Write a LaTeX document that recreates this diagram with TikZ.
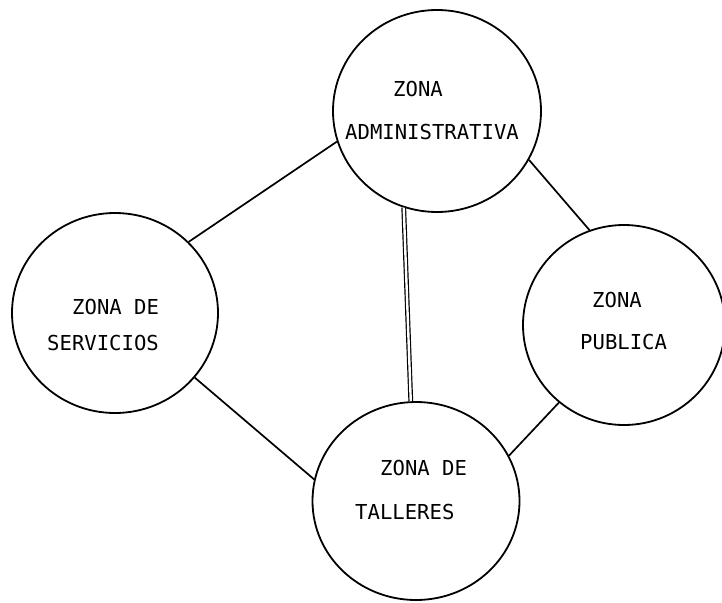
\documentclass[tikz,border=0pt]{standalone}
\usepackage{fontspec}
\newfontfamily\zfont{DejaVu Sans Mono}
\usetikzlibrary{shapes.geometric}
\begin{document}
\begin{tikzpicture}[x=1pt,y=-1pt,
  zone/.style={draw, ellipse, line width=1.8pt, inner sep=0pt},
  lbl/.style={anchor=base west, inner sep=0pt, font=\zfont\fontsize{20.6}{24}\selectfont},
  link/.style={line width=1.7pt},
  dlink/.style={line width=1.2pt, double, double distance=2.4pt}]
\clip (0,0) rectangle (722,602);
\fill[white] (0,0) rectangle (722,602);
\node[zone, minimum width=208pt, minimum height=202pt] (adm) at (437,111) {};
\node[zone, minimum width=206pt, minimum height=200pt] (ser) at (115,313) {};
\node[zone, minimum width=202pt, minimum height=200pt] (pub) at (624,325) {};
\node[zone, minimum width=207pt, minimum height=198pt] (tal) at (416,501) {};
\node[lbl] (t1) at (393,96.5) {ZONA};
\node[lbl] (t2) at (345,139.5) {ADMINISTRATIVA};
\node[lbl] (t3) at (72,314.5) {ZONA DE};
\node[lbl] (t4) at (47,350.5) {SERVICIOS};
\node[lbl] (t5) at (592,307.5) {ZONA};
\node[lbl] (t6) at (580,349.5) {PUBLICA};
\node[lbl] (t7) at (380,475.5) {ZONA DE};
\node[lbl] (t8) at (355,519.5) {TALLERES};
\draw[link] (ser.44.6) -- (adm.197);
\draw[link] (ser.-39.4) -- (tal.168);
\draw[link] (adm.-28) -- (pub.110.6);
\draw[link] (tal.26.6) -- (pub.230);
\draw[dlink] (adm.251) -- (tal.93.4);
\end{tikzpicture}
\end{document}
